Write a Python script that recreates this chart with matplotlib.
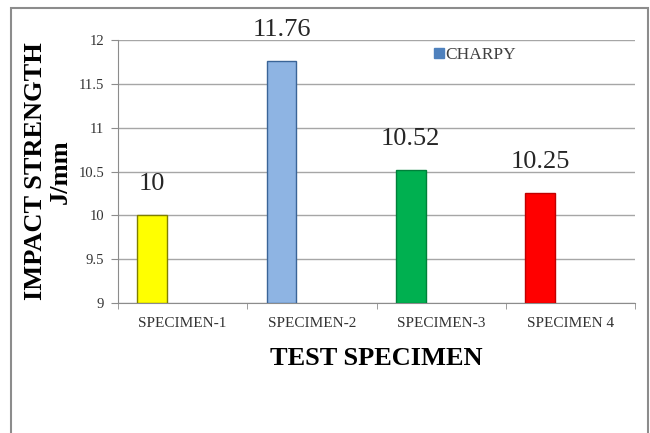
import matplotlib
matplotlib.use("Agg")
import matplotlib.pyplot as plt
import matplotlib.patches as mpatches

# data
specimens = ["SPECIMEN-1", "SPECIMEN-2", "SPECIMEN-3", "SPECIMEN 4"]
charpy = [10, 11.76, 10.52, 10.25]
value_labels = ["10", "11.76", "10.52", "10.25"]
bar_colors = ["#FFFF00", "#8EB4E3", "#00B050", "#FF0000"]
edge_colors = ["#7F7F00", "#3A6497", "#00803A", "#C00000"]
y_ticks = [9, 9.5, 10, 10.5, 11, 11.5, 12]

plt.rcParams["font.family"] = ["Liberation Serif", "DejaVu Serif"]

fig = plt.figure(figsize=(6.5, 4.33), dpi=100)
ax = fig.add_axes([0.1815, 0.300, 0.7955, 0.6076])

# outer frame of the chart
fig.patches.append(mpatches.Rectangle((11 / 650, -0.01), 637 / 650, 1 - 8 / 433 + 0.01,
                                      transform=fig.transFigure, fill=False,
                                      edgecolor="#8C8C8C", linewidth=1.5))

offset = -0.235
xs = [i + offset for i in range(len(specimens))]
bars = ax.bar(xs, [v - 9 for v in charpy], bottom=9, width=0.23,
              color=bar_colors, edgecolor=edge_colors, linewidth=1, zorder=3)

for x, v, lbl in zip(xs, charpy, value_labels):
    ax.text(x, v + 0.23, lbl, ha="center", va="bottom", fontsize=19, color="#262626")

ax.set_xlim(-0.5, len(specimens) - 0.5)
ax.set_ylim(9, 12)
ax.set_yticks(y_ticks)
ax.set_yticklabels([f"{t:g}" for t in y_ticks], fontsize=10.5, color="#333333")
ax.set_xticks(range(len(specimens)))
ax.set_xticklabels(specimens, fontsize=11, color="#333333")
ax.tick_params(axis="x", length=0, pad=10)
ax.set_xticks([i - 0.5 for i in range(len(specimens) + 1)], minor=True)
ax.tick_params(axis="x", which="minor", length=4, color="#8C8C8C", direction="out")
ax.tick_params(axis="y", length=5, color="#8C8C8C", pad=5)

ax.grid(axis="y", color="#A6A6A6", linewidth=1, zorder=0)
for s in ["top", "right"]:
    ax.spines[s].set_visible(False)
for s in ["left", "bottom"]:
    ax.spines[s].set_color("#8C8C8C")

ax.set_xlabel("TEST SPECIMEN", fontsize=19, fontweight="bold", labelpad=12)
ax.set_ylabel("IMPACT STRENGTH\nJ/mm", fontsize=19, fontweight="bold",
              labelpad=5, linespacing=1.08)

handle = mpatches.Patch(color="#4F81BD", label="CHARPY")
ax.legend(handles=[handle], loc="center left", bbox_to_anchor=(0.595, 0.943),
          frameon=False, fontsize=12.5, handlelength=0.55, handleheight=0.55,
          handletextpad=0.1, borderpad=0, labelcolor="#404040")

fig.savefig("out.png", dpi=100)
